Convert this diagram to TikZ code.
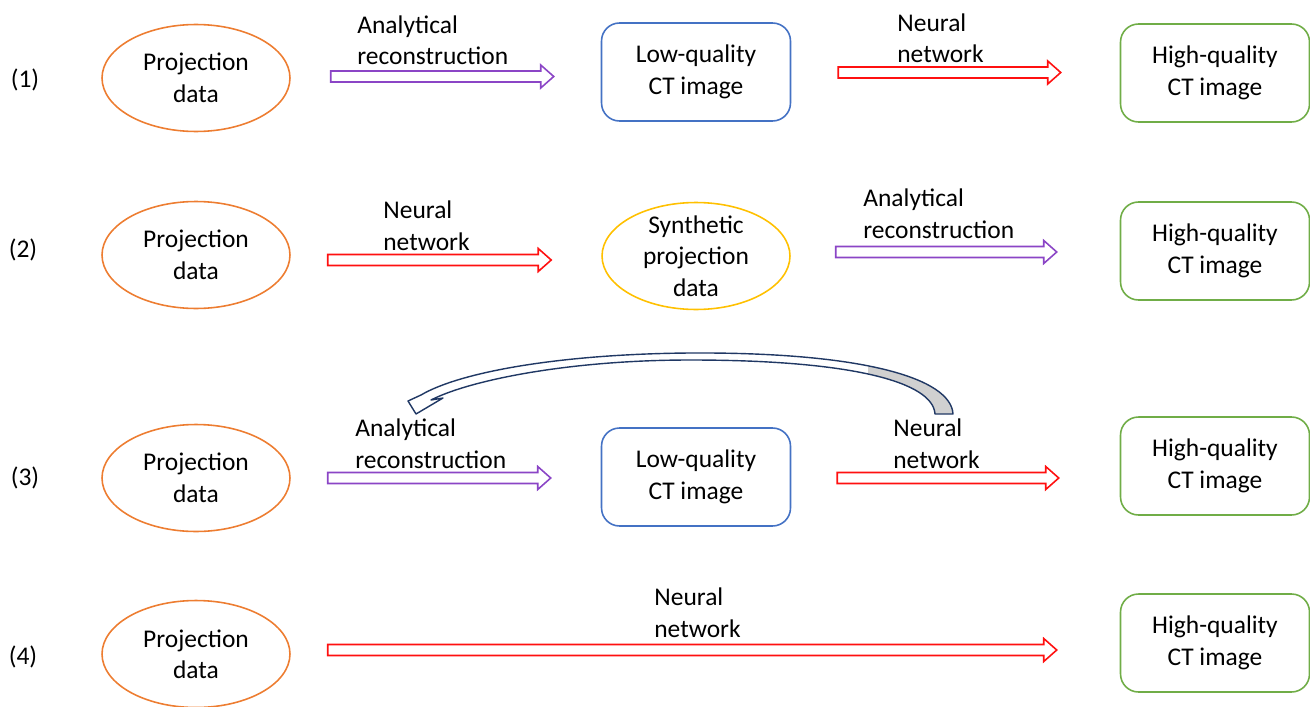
\documentclass[tikz,border=0pt]{standalone}
\usepackage{fontspec}
\setmainfont{Carlito}
\usetikzlibrary{shapes.geometric,calc}
\definecolor{projorange}{HTML}{ED7D31}
\definecolor{synthyellow}{HTML}{FFC000}
\definecolor{lowblue}{HTML}{4472C4}
\definecolor{highgreen}{HTML}{70AD47}
\definecolor{recpurple}{HTML}{8B45C6}
\definecolor{netred}{HTML}{FF1010}
\definecolor{loopnavy}{HTML}{203864}
\definecolor{loopgray}{HTML}{D0D0D0}
\tikzset{
	projection/.style={ellipse,draw=projorange,line width=0.9pt,minimum width=3.76cm,minimum height=2.14cm,inner sep=0pt,align=center},
	synthetic/.style={projection,draw=synthyellow,inner ysep=-3pt},
	lowq/.style={rectangle,rounded corners=0.36cm,draw=lowblue,line width=0.9pt,minimum width=3.78cm,minimum height=1.96cm,align=center},
	highq/.style={lowq,draw=highgreen},
	arrowlabel/.style={anchor=base west,align=left,inner sep=0pt},
}
% hollow block arrow: colour, start point, x of the tip
\newcommand\hollowarrow[3]{%
	\coordinate (ha-s) at #2;
	\coordinate (ha-x) at #3;
	\coordinate (ha-e) at (ha-s -| ha-x);
	\draw[#1,line width=0.9pt,fill=white,line join=miter]
	($(ha-s)+(0,-5.5)$)--($(ha-e)+(-13,-5.5)$)--($(ha-e)+(-13,-11.5)$)--(ha-e)
	--($(ha-e)+(-13,11.5)$)--($(ha-e)+(-13,5.5)$)--($(ha-s)+(0,5.5)$)--cycle;}
\newcommand\ribbonpath{(953,414) .. controls (951,378) and (862,352) .. (690,353)
	.. controls (560,354) and (460,372) .. (421,395)
	-- (408,401) -- (416,414) -- (443,398) -- (431,400)
	.. controls (470,380) and (570,360) .. (690,360)
	.. controls (852,360) and (933,382) .. (935,414) -- cycle}
\begin{document}
\begin{tikzpicture}[x=0.02cm,y=-0.02cm,font=\fontsize{14.5}{17.9}\selectfont]
	\useasboundingbox (0,0) rectangle (1310,706);
	% row labels
	\node (lbl1) at (25,80) {(1)};
	\node (lbl2) at (23,250) {(2)};
	\node (lbl3) at (25,478) {(3)};
	\node (lbl4) at (23,657) {(4)};
	% (1)
	\node[projection] (pd1) at (196,78) {Projection\\data};
	\node[lowq] (lq1) at (696,72) {Low-quality\\CT image};
	\node[highq] (hq1) at (1215,73) {High-quality\\CT image};
	\hollowarrow{recpurple}{($(pd1.east)+(40,-1.5)$)}{($(lq1.west)+(-47,0)$)}
	\hollowarrow{netred}{($(lq1.east)+(47,0.5)$)}{($(hq1.west)+(-59,0)$)}
	\node[arrowlabel] (t1a) at (357,65) {Analytical\\reconstruction};
	\node[arrowlabel] (t1b) at (897,63) {Neural\\network};
	% (2)
	\node[projection] (pd2) at (196,255) {Projection\\data};
	\node[synthetic] (sp2) at (696,256) {Synthetic\\projection\\data};
	\node[highq] (hq2) at (1215,251) {High-quality\\CT image};
	\hollowarrow{netred}{($(pd2.east)+(37,5)$)}{($(sp2.west)+(-50,0)$)}
	\hollowarrow{recpurple}{($(sp2.east)+(45,-4)$)}{($(hq2.west)+(-63,0)$)}
	\node[arrowlabel] (t2a) at (383,250) {Neural\\network};
	\node[arrowlabel] (t2b) at (863,238) {Analytical\\reconstruction};
	% (3)
	\node[projection] (pd3) at (196,478) {Projection\\data};
	\node[lowq] (lq3) at (696,477) {Low-quality\\CT image};
	\node[highq] (hq3) at (1215,466) {High-quality\\CT image};
	\hollowarrow{recpurple}{($(pd3.east)+(37,0)$)}{($(lq3.west)+(-50,0)$)}
	\hollowarrow{netred}{($(lq3.east)+(46,1)$)}{($(hq3.west)+(-61,0)$)}
	\node[arrowlabel] (t3a) at (355,468) {Analytical\\reconstruction};
	\node[arrowlabel] (t3b) at (893,468) {Neural\\network};
	% feedback loop
	\fill[white] \ribbonpath;
	\begin{scope}
		\clip \ribbonpath;
		\fill[loopgray] (868,340) rectangle (960,420);
	\end{scope}
	\draw[loopnavy,line width=0.8pt,line join=round] \ribbonpath;
	% (4)
	\node[projection] (pd4) at (196,654) {Projection\\data};
	\node[highq] (hq4) at (1215,643) {High-quality\\CT image};
	\hollowarrow{netred}{($(pd4.east)+(37,-4)$)}{($(hq4.west)+(-63,0)$)}
	\node[arrowlabel] (t4) at (654,637) {Neural\\network};
\end{tikzpicture}
\end{document}
